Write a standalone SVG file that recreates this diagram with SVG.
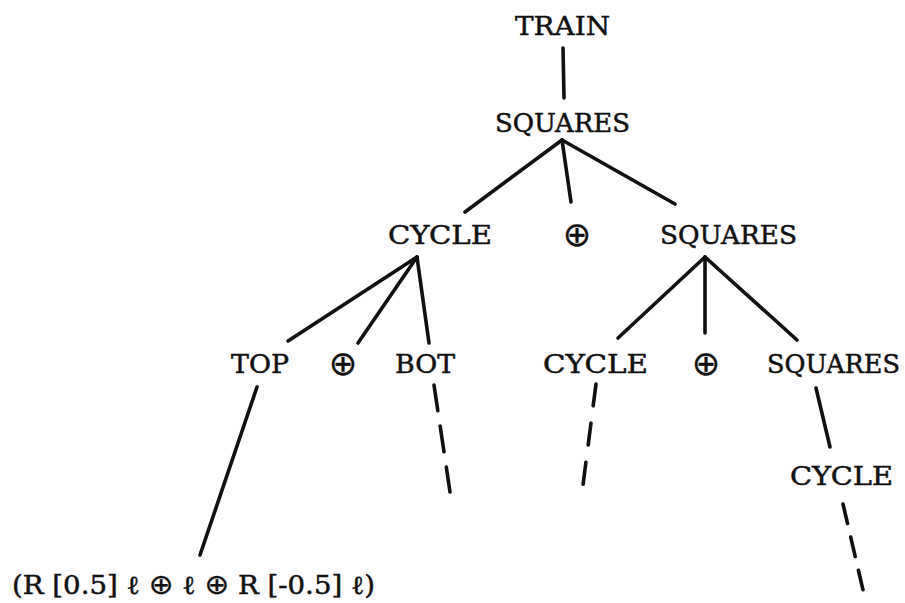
<svg xmlns="http://www.w3.org/2000/svg" width="905" height="603" viewBox="0 0 905 603">
<style>
  text { font-family: "DejaVu Serif", "Liberation Serif", serif; font-size: 26px; fill: #111; stroke: #111; stroke-width: 0.5; text-anchor: middle; }
  .op { font-family: "DejaVu Sans", "DejaVu Serif", sans-serif; font-size: 34px; stroke-width: 0.3; }
  .fop { font-family: "DejaVu Sans", "DejaVu Serif", sans-serif; font-size: 28px; stroke-width: 0.3; }
  .edge { stroke: #111; stroke-width: 3.6; fill: none; stroke-linecap: round; }
</style>
<rect width="905" height="603" fill="#ffffff"/>
<g id="connectors">
  <line class="edge" x1="563" y1="48" x2="564" y2="98"/>
  <line class="edge" x1="562" y1="140" x2="465" y2="212"/>
  <line class="edge" x1="562" y1="140" x2="571" y2="202"/>
  <line class="edge" x1="562" y1="140" x2="675" y2="204"/>
  <line class="edge" x1="417" y1="257" x2="288" y2="341"/>
  <line class="edge" x1="417" y1="257" x2="358" y2="343"/>
  <line class="edge" x1="417" y1="257" x2="429" y2="343"/>
  <line class="edge" x1="705" y1="257" x2="618" y2="338"/>
  <line class="edge" x1="705" y1="257" x2="705" y2="333"/>
  <line class="edge" x1="705" y1="257" x2="797" y2="340"/>
  <line class="edge" x1="257" y1="387" x2="200" y2="555"/>
  <line class="edge" x1="434" y1="385" x2="450" y2="492" stroke-dasharray="26 15.5"/>
  <line class="edge" x1="596" y1="384" x2="583" y2="485" stroke-dasharray="22 17.5"/>
  <line class="edge" x1="816" y1="388" x2="830" y2="447"/>
  <line class="edge" x1="843" y1="504" x2="863" y2="590" stroke-dasharray="20 14"/>
</g>
<g id="n_train"><text x="562.5" y="35" textLength="95" lengthAdjust="spacingAndGlyphs">TRAIN</text></g>
<g id="n_squares1"><text x="562.5" y="132" textLength="135" lengthAdjust="spacingAndGlyphs">SQUARES</text></g>
<g id="n_cycle1"><text x="440" y="244" textLength="104" lengthAdjust="spacingAndGlyphs">CYCLE</text></g>
<g id="n_op1"><text class="op" x="577" y="246">⊕</text></g>
<g id="n_squares2"><text x="728.5" y="244" textLength="137" lengthAdjust="spacingAndGlyphs">SQUARES</text></g>
<g id="n_top"><text x="260" y="373" textLength="58" lengthAdjust="spacingAndGlyphs">TOP</text></g>
<g id="n_op2"><text class="op" x="343" y="375">⊕</text></g>
<g id="n_bot"><text x="425" y="373" textLength="60" lengthAdjust="spacingAndGlyphs">BOT</text></g>
<g id="n_cycle2"><text x="595.5" y="373" textLength="105" lengthAdjust="spacingAndGlyphs">CYCLE</text></g>
<g id="n_op3"><text class="op" x="706" y="375">⊕</text></g>
<g id="n_squares3"><text x="833.5" y="373" textLength="133" lengthAdjust="spacingAndGlyphs">SQUARES</text></g>
<g id="n_cycle3"><text x="841.5" y="485" textLength="103" lengthAdjust="spacingAndGlyphs">CYCLE</text></g>
<g id="n_formula"><text x="193.5" y="594" textLength="363" lengthAdjust="spacingAndGlyphs">(R [0.5] ℓ <tspan class="fop">⊕</tspan> ℓ <tspan class="fop">⊕</tspan> R [-0.5] ℓ)</text></g>
</svg>
